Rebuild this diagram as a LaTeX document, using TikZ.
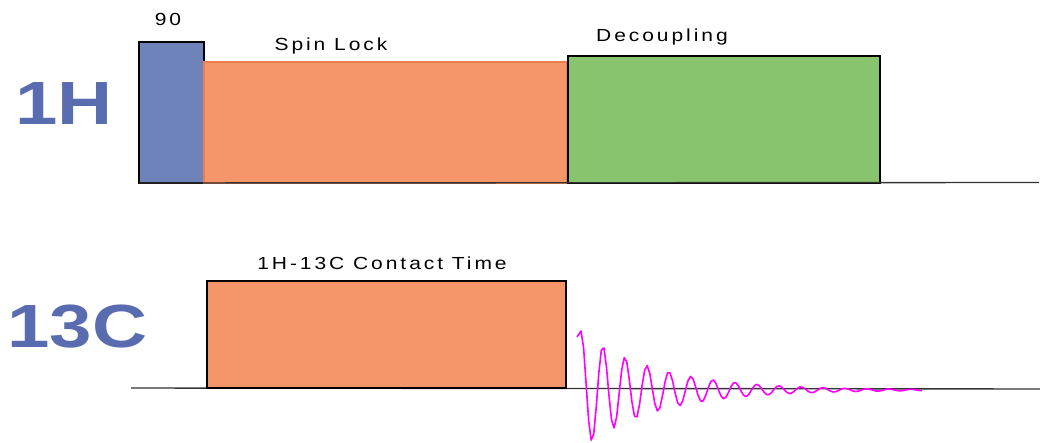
\documentclass[tikz,border=0pt]{standalone}
\usepackage{fontspec}
\setmainfont{Liberation Sans}
\definecolor{pblue}{HTML}{6F83BB}
\definecolor{porange}{HTML}{F4956A}
\definecolor{porangeb}{HTML}{EE7D4C}
\definecolor{pgreen}{HTML}{88C46E}
\definecolor{tblue}{HTML}{5A6CB0}
\definecolor{fidc}{HTML}{FF00FF}
\tikzset{
  pbox/.style={draw=black, line width=2.2pt, inner sep=0pt, outer sep=0pt, anchor=south west},
  lbl/.style={inner sep=0pt, anchor=base, xscale=1.2, font=\fontsize{17.5}{20}\selectfont\addfontfeature{LetterSpace=14}},
  big/.style={inner sep=0pt, anchor=base west, xscale=1.25, text=tblue, font=\fontsize{61}{70}\selectfont\bfseries},
  base/.style={draw=black!80, line width=1.4pt},
  fid/.style={draw=fidc, line width=1.6pt, line join=round}
}
\begin{document}
\begin{tikzpicture}[x=1pt,y=-1pt]
\useasboundingbox (0,0) rectangle (1040,443);
% channel labels
\node[big] (h1) at (15,125) {1H};
\node[big] (c13) at (7,347) {13C};
% 1H channel
\node[pbox, fill=pblue, minimum width=65, minimum height=141] (p90) at (139,183) {};
\node[pbox, draw=porangeb, fill=porange, minimum width=363, minimum height=121] (spin) at (204,183) {};
\node[pbox, fill=pgreen, minimum width=312, minimum height=127] (dec) at (568,183) {};
\coordinate (hend) at (1039,182.5);
\draw[base] (p90.south west) -- (hend);
\node[lbl] (l90) at (168,26) {90};
\node[lbl] (lspin) at (331,51) {Spin Lock};
\node[lbl] (ldec) at (662,42) {Decoupling};
% 13C channel
\coordinate (cstart) at (131,388);
\coordinate (cend) at (1040,389);
\draw[base] (cstart) -- (cend);
\node[pbox, fill=porange, minimum width=359, minimum height=107] (ct) at (207,388) {};
\node[lbl] (lct) at (382,270) {1H-13C Contact Time};
% FID
\draw[fid] (577,337) -- plot[domain=0:341, samples=135] ({\x+581}, {390 - 59*exp(-\x/75)*cos(\x*16.3636)});
\end{tikzpicture}
\end{document}
